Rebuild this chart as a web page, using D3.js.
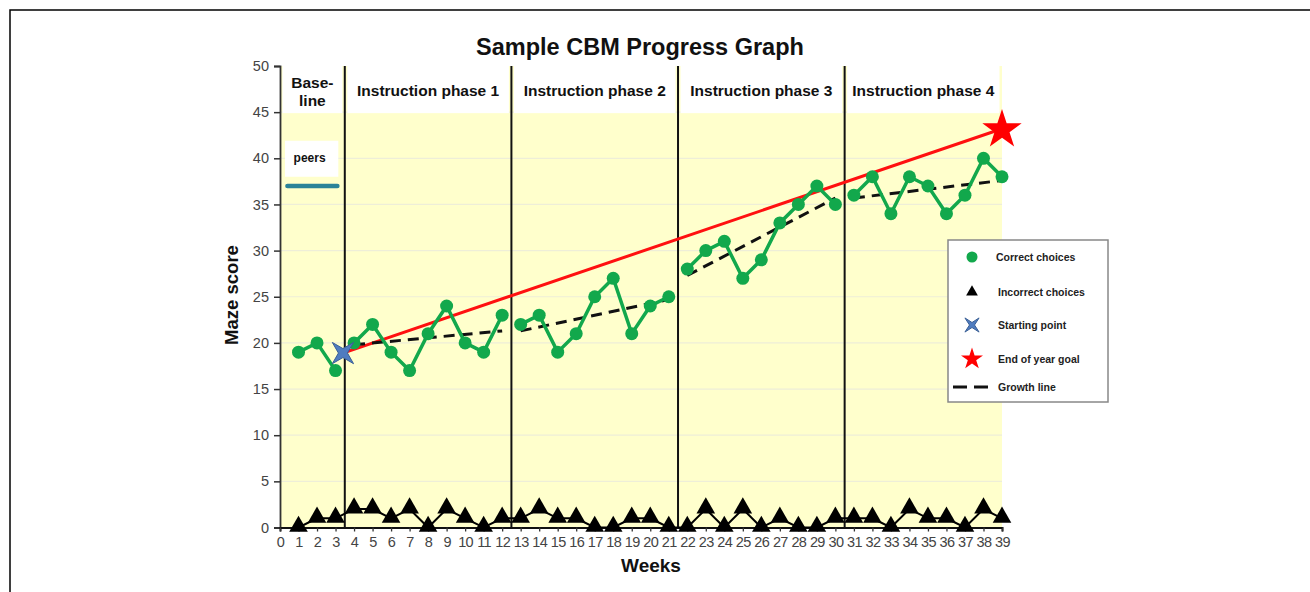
<!DOCTYPE html>
<html>
<head>
<meta charset="utf-8">
<script src="https://cdn.jsdelivr.net/npm/d3@7"></script>
<style>
  body { margin: 0; background: #fff; }
  svg { display: block; font-family: Arial, "Liberation Sans", sans-serif; }
</style>
</head>
<body>
<svg id="chart" width="1310" height="592"></svg>
<script>
// ---- data ----
const weeks = [1,2,3,4,5,6,7,8,9,10,11,12,13,14,15,16,17,18,19,20,21,22,23,24,25,26,27,28,29,30,31,32,33,34,35,36,37,38,39];
const correct = [19,20,17,20,22,19,17,21,24,20,19,23,22,23,19,21,25,27,21,24,25,28,30,31,27,29,33,35,37,35,36,38,34,38,37,34,36,40,38];
const incorrect = [0,1,1,2,2,1,2,0,2,1,0,1,1,2,1,1,0,0,1,1,0,0,2,0,2,0,1,0,0,1,1,1,0,2,1,1,0,2,1];

const phaseLabels = [['Base-', 'line'], ['Instruction phase 1'], ['Instruction phase 2'], ['Instruction phase 3'], ['Instruction phase 4']];
const phaseBounds = [0, 3.5, 12.5, 21.5, 30.5, 39];

// growth line per instruction phase: [week, score, week, score]
const growth = [[4, 19.8, 12, 21.3], [13, 21.3, 21, 24.7], [22, 27.3, 30, 35.7], [31, 35.7, 39, 37.6]];
const startPoint = [3.4, 18.9];
const goalPoint = [39, 43.2];
const peersScore = 37;

const yTicks = [0,5,10,15,20,25,30,35,40,45,50];
const xTicks = [0,1,2,3,4,5,6,7,8,9,10,11,12,13,14,15,16,17,18,19,20,21,22,23,24,25,26,27,28,29,30,31,32,33,34,35,36,37,38,39];

const legendItems = ['Correct choices', 'Incorrect choices', 'Starting point', 'End of year goal', 'Growth line'];

// ---- layout ----
const svg = d3.select('#chart');
const x = d3.scaleLinear().domain([0, 39]).range([280, 1002]);
const y = d3.scaleLinear().domain([0, 50]).range([527.5, 66]);

const GREEN = '#12a84c';

// outer frame
svg.append('rect').attr('x', 10).attr('y', 10).attr('width', 1320).attr('height', 600)
  .attr('fill', 'none').attr('stroke', '#000').attr('stroke-width', 1.5);

// plot background
svg.append('rect')
  .attr('x', x(0)).attr('y', y(50))
  .attr('width', x(39) - x(0)).attr('height', y(0) - y(50))
  .attr('fill', '#ffffcc');

// gridlines
svg.append('g').selectAll('line').data(yTicks.filter(d => d > 0 && d < 50)).join('line')
  .attr('x1', x(0)).attr('x2', x(39))
  .attr('y1', d => y(d)).attr('y2', d => y(d))
  .attr('stroke', '#eeeed8').attr('stroke-width', 1.2);

// phase header boxes
const headers = svg.append('g');
phaseLabels.forEach((lab, i) => {
  const x0 = x(phaseBounds[i]) + 2.5;
  const x1 = x(phaseBounds[i + 1]) - 2.5;
  headers.append('rect')
    .attr('x', x0).attr('y', y(50)).attr('width', x1 - x0).attr('height', y(45) - y(50) + 1)
    .attr('fill', '#fff');
  const t = headers.append('text')
    .attr('x', (x0 + x1) / 2)
    .attr('text-anchor', 'middle')
    .attr('font-size', 15.5).attr('font-weight', 'bold').attr('fill', '#111');
  if (lab.length === 1) {
    t.attr('y', 96).text(lab[0]);
  } else {
    lab.forEach((s, k) => t.append('tspan').attr('x', (x0 + x1) / 2).attr('y', 88 + k * 18).text(s));
  }
});

// peers box + line
svg.append('rect').attr('x', x(0) + 5).attr('y', y(41.9)).attr('width', x(3.15) - x(0) - 5).attr('height', y(38) - y(41.9))
  .attr('fill', '#fff');
svg.append('text').attr('x', x(1.6)).attr('y', y(39.6)).attr('text-anchor', 'middle')
  .attr('font-size', 12).attr('font-weight', 'bold').attr('fill', '#111').text('peers');
svg.append('line').attr('x1', x(0.4)).attr('x2', x(3.1)).attr('y1', y(peersScore)).attr('y2', y(peersScore))
  .attr('stroke', '#2b8398').attr('stroke-width', 4.5).attr('stroke-linecap', 'round');

// phase dividers
svg.append('g').selectAll('line').data(phaseBounds.slice(1, -1)).join('line')
  .attr('x1', d => x(d)).attr('x2', d => x(d))
  .attr('y1', y(50)).attr('y2', y(0))
  .attr('stroke', '#111').attr('stroke-width', 2);

// axes
const yAxis = svg.append('g').attr('transform', `translate(${x(0)},0)`)
  .call(d3.axisLeft(y).tickValues(yTicks).tickSize(6).tickPadding(5));
yAxis.select('.domain').attr('stroke', '#333').attr('stroke-width', 1.8);
yAxis.selectAll('.tick line').attr('stroke', '#333').attr('stroke-width', 1.5);
yAxis.selectAll('.tick text').attr('font-size', 14.5).attr('fill', '#444').attr('font-family', 'Arial, "Liberation Sans", sans-serif');

const xAxis = svg.append('g').attr('transform', `translate(0,${y(0)})`)
  .call(d3.axisBottom(x).tickValues(xTicks).tickFormat(d3.format('d')).tickSize(4).tickPadding(5));
xAxis.select('.domain').attr('stroke', '#111').attr('stroke-width', 2);
xAxis.selectAll('.tick line').attr('stroke', '#333').attr('stroke-width', 1.3);
xAxis.selectAll('.tick text').attr('font-size', 14.5).attr('fill', '#444').attr('letter-spacing', -0.6)
  .attr('font-family', 'Arial, "Liberation Sans", sans-serif');

// titles
svg.append('text').attr('x', 640).attr('y', 55).attr('text-anchor', 'middle')
  .attr('font-size', 23.5).attr('font-weight', 'bold').attr('fill', '#111').text('Sample CBM Progress Graph');
svg.append('text').attr('x', 651).attr('y', 572).attr('text-anchor', 'middle')
  .attr('font-size', 19).attr('font-weight', 'bold').attr('fill', '#111').text('Weeks');
svg.append('text').attr('transform', 'translate(238,295) rotate(-90)').attr('text-anchor', 'middle')
  .attr('font-size', 18.5).attr('font-weight', 'bold').attr('fill', '#111').text('Maze score');

// goal line
svg.append('line')
  .attr('x1', x(startPoint[0])).attr('y1', y(startPoint[1]))
  .attr('x2', x(goalPoint[0])).attr('y2', y(goalPoint[1]))
  .attr('stroke', '#ff1010').attr('stroke-width', 3);

// growth lines
svg.append('g').selectAll('line').data(growth).join('line')
  .attr('x1', d => x(d[0])).attr('y1', d => y(d[1]))
  .attr('x2', d => x(d[2])).attr('y2', d => y(d[3]))
  .attr('stroke', '#111').attr('stroke-width', 3).attr('stroke-dasharray', '11,7');

// correct choices, one segment per phase
const pts = weeks.map((w, i) => ({ w, c: correct[i], e: incorrect[i] }));
const phaseOf = w => Math.min(d3.bisectRight(phaseBounds, w) - 1, phaseLabels.length - 1);
const segs = d3.groups(pts, d => phaseOf(d.w)).map(g => g[1]);
const line = d3.line().x(d => x(d.w)).y(d => y(d.c));
svg.append('g').selectAll('path').data(segs).join('path')
  .attr('d', line).attr('fill', 'none').attr('stroke', GREEN).attr('stroke-width', 3.5);
svg.append('g').selectAll('circle').data(pts).join('circle')
  .attr('cx', d => x(d.w)).attr('cy', d => y(d.c)).attr('r', 6.5).attr('fill', GREEN);

// incorrect choices
svg.append('path').datum(pts)
  .attr('d', d3.line().x(d => x(d.w)).y(d => y(d.e)))
  .attr('fill', 'none').attr('stroke', '#000').attr('stroke-width', 2);
const tri = d3.symbol().type(d3.symbolTriangle).size(150);
svg.append('g').selectAll('path').data(pts).join('path')
  .attr('transform', d => `translate(${x(d.w)},${y(d.e) - 1})`)
  .attr('d', tri).attr('fill', '#000');

// four-pointed star (diagonal points)
function star4(R, r) {
  const p = [];
  for (let k = 0; k < 8; k++) {
    const a = Math.PI / 4 + k * Math.PI / 4;
    const rad = k % 2 === 0 ? R : r;
    p.push([Math.cos(a) * rad, Math.sin(a) * rad]);
  }
  return 'M' + p.map(q => q.join(',')).join('L') + 'Z';
}
const star5 = d3.symbol().type(d3.symbolStar);

svg.append('path').attr('d', star4(15, 4.5))
  .attr('transform', `translate(${x(startPoint[0])},${y(startPoint[1])})`)
  .attr('fill', '#4f7cc0').attr('stroke', '#3a5f96').attr('stroke-width', 1);
svg.append('path').attr('d', star5.size(480)())
  .attr('transform', `translate(${x(goalPoint[0])},${y(goalPoint[1]) + 1})`)
  .attr('fill', '#ff0000');

// legend
const lg = svg.append('g').attr('transform', 'translate(948,240)');
lg.append('rect').attr('width', 160).attr('height', 162).attr('fill', '#fff')
  .attr('stroke', '#888').attr('stroke-width', 1.5);
const rowY = [17, 52, 85, 119, 147];
lg.selectAll('text').data(legendItems).join('text')
  .attr('x', d => d === 'Correct choices' ? 48 : 50).attr('y', (d, i) => rowY[i] + 4)
  .attr('font-size', 10.5).attr('font-weight', 'bold').attr('fill', '#222').text(d => d);
lg.append('circle').attr('cx', 24).attr('cy', rowY[0]).attr('r', 5.5).attr('fill', GREEN);
lg.append('path').attr('d', d3.symbol().type(d3.symbolTriangle).size(60)())
  .attr('transform', `translate(24,${rowY[1]})`).attr('fill', '#000');
lg.append('path').attr('d', star4(10, 2.5))
  .attr('transform', `translate(24,${rowY[2]})`).attr('fill', '#4f7cc0').attr('stroke', '#3a5f96');
lg.append('path').attr('d', star5.size(150)())
  .attr('transform', `translate(24,${rowY[3]})`).attr('fill', '#ff0000');
lg.append('line').attr('x1', 5).attr('x2', 42).attr('y1', rowY[4]).attr('y2', rowY[4])
  .attr('stroke', '#111').attr('stroke-width', 3).attr('stroke-dasharray', '14,7');
</script>
</body>
</html>
